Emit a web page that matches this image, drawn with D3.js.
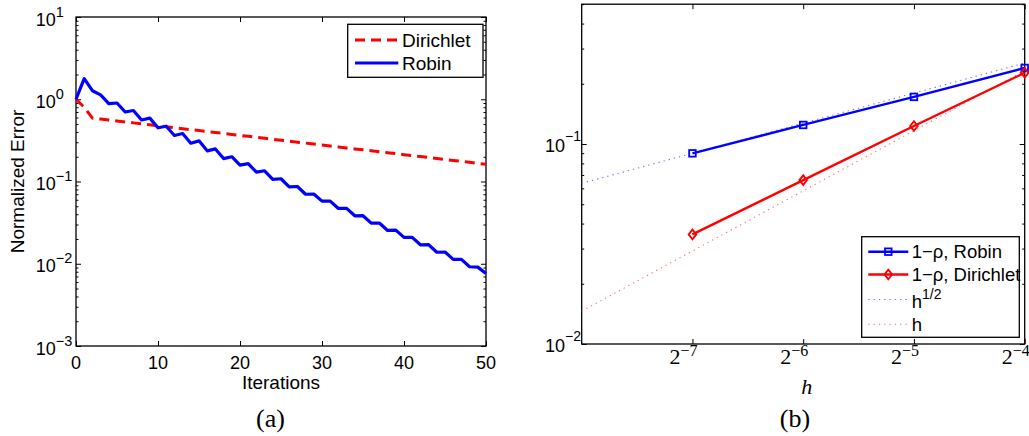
<!DOCTYPE html>
<html>
<head>
<meta charset="UTF-8">
<title>convergence</title>
<script src="https://d3js.org/d3.v7.min.js"></script>
<style>
  body { margin: 0; background: #fff; }
  text { font-family: "Liberation Sans", Arial, sans-serif; fill: #000; }
  .serif { font-family: "Liberation Serif", "Times New Roman", serif; }
</style>
</head>
<body>
<svg id="chart" width="1029" height="436"></svg>
<script>
  // (a) normalized error vs iterations, index = iteration number
  const dirichlet = [1.0, 0.80, 0.590, 0.574, 0.559, 0.544, 0.530, 0.516, 0.502, 0.489,
    0.476, 0.463, 0.451, 0.439, 0.427, 0.416, 0.405, 0.394, 0.384, 0.373,
    0.363, 0.354, 0.344, 0.335, 0.326, 0.318, 0.309, 0.301, 0.293, 0.285,
    0.278, 0.270, 0.263, 0.256, 0.249, 0.243, 0.236, 0.230, 0.224, 0.218,
    0.212, 0.206, 0.201, 0.196, 0.190, 0.185, 0.180, 0.176, 0.171, 0.166, 0.162];
  const robin = [1.0, 1.78, 1.27, 1.13, 0.885, 0.90, 0.70, 0.73, 0.56, 0.59,
    0.45, 0.47, 0.363, 0.383, 0.292, 0.312, 0.236, 0.249, 0.190, 0.200,
    0.158, 0.165, 0.130, 0.135, 0.106, 0.108, 0.0862, 0.087, 0.0700, 0.0705,
    0.0577, 0.0577, 0.0470, 0.0471, 0.0383, 0.0384, 0.0312, 0.0313, 0.0254, 0.0256,
    0.0209, 0.0209, 0.0170, 0.0171, 0.0138, 0.0139, 0.0113, 0.0113, 0.0092, 0.0091, 0.0076];
  const iterTicks = [0, 10, 20, 30, 40, 50];
  const errTicks = [1e-3, 1e-2, 1e-1, 1, 10];
  const errExps = ['\u22123', '\u22122', '\u22121', '0', '1'];

  // (b) 1 - rho vs h
  const hValues = [1/128, 1/64, 1/32, 1/16];
  const rhoRobin = [0.0898, 0.1245, 0.172, 0.240];
  const rhoDirichlet = [0.0353, 0.066, 0.123, 0.227];
  const refH = [1/256, 1/16];
  const refSqrt = [0.0636, 0.254];
  const refLin = [0.0146, 0.233];
  const hTicks = [1/128, 1/64, 1/32, 1/16];
  const hExps = ['\u22127', '\u22126', '\u22125', '\u22124'];
  const rhoTicks = [1e-2, 1e-1];
  const rhoExps = ['\u22122', '\u22121'];

  const svg = d3.select('#chart');

  const A = { x0: 76, x1: 486, y0: 17, y1: 346 };
  const B = { x0: 581.7, x1: 1024.7, y0: 4.2, y1: 344 };

  const xa = d3.scaleLinear().domain([0, 50]).range([A.x0, A.x1]);
  const ya = d3.scaleLog().domain([1e-3, 10]).range([A.y1, A.y0]);
  const xb = d3.scaleLog().base(2).domain([1/256, 1/16]).range([B.x0, B.x1]);
  const yb = d3.scaleLog().domain([0.01, 0.5]).range([B.y1, B.y0]);

  function ticks(box, x, y, xt, yt, ymin) {
    const g = svg.append('g');
    const strip = sel => { sel.select('.domain').remove(); sel.selectAll('text').remove(); sel.selectAll('line').attr('stroke', '#000'); };
    g.append('g').attr('transform', `translate(0,${box.y1})`)
      .call(d3.axisBottom(x).tickValues(xt).tickSizeInner(-5).tickSizeOuter(0)).call(strip);
    g.append('g').attr('transform', `translate(0,${box.y0})`)
      .call(d3.axisTop(x).tickValues(xt).tickSizeInner(-5).tickSizeOuter(0)).call(strip);
    g.append('g').attr('transform', `translate(${box.x0},0)`)
      .call(d3.axisLeft(y).tickValues(yt).tickSizeInner(-5).tickSizeOuter(0)).call(strip);
    g.append('g').attr('transform', `translate(${box.x1},0)`)
      .call(d3.axisRight(y).tickValues(yt).tickSizeInner(-5).tickSizeOuter(0)).call(strip);
    g.append('g').attr('transform', `translate(${box.x0},0)`)
      .call(d3.axisLeft(y).tickValues(ymin).tickSizeInner(-2.5).tickSizeOuter(0)).call(strip);
    g.append('g').attr('transform', `translate(${box.x1},0)`)
      .call(d3.axisRight(y).tickValues(ymin).tickSizeInner(-2.5).tickSizeOuter(0)).call(strip);
    g.selectAll('line').attr('stroke-width', 1);
    svg.append('rect').attr('x', box.x0).attr('y', box.y0)
      .attr('width', box.x1 - box.x0).attr('height', box.y1 - box.y0)
      .attr('fill', 'none').attr('stroke', '#000').attr('stroke-width', 1.3);
  }

  function powLabel(x, y, base, exp, size, supSize, dy, cls, anchor) {
    const t = svg.append('text').attr('x', x).attr('y', y)
      .attr('font-size', size).attr('text-anchor', anchor || 'start');
    if (cls) t.attr('class', cls);
    t.append('tspan').text(base);
    t.append('tspan').attr('dy', dy).attr('font-size', supSize).text(exp);
    return t;
  }

  // ---------- (a) ----------
  const minorA = ya.ticks().filter(v => !errTicks.some(m => Math.abs(m - v) / m < 1e-6));
  ticks(A, xa, ya, iterTicks, errTicks, minorA);

  const lineA = d3.line().x((d, i) => xa(i)).y(d => ya(d));
  svg.append('path').datum(dirichlet).attr('d', lineA)
    .attr('fill', 'none').attr('stroke', '#ff0000').attr('stroke-width', 3)
    .attr('stroke-dasharray', '10,6');
  svg.append('path').datum(robin).attr('d', lineA)
    .attr('fill', 'none').attr('stroke', '#0000ff').attr('stroke-width', 3.2)
    .attr('stroke-linejoin', 'round');

  errTicks.forEach((v, i) => powLabel(A.x0 - 40.3, ya(v) + 8.5, '10', errExps[i], 18, 14.5, -9));
  iterTicks.forEach(v => svg.append('text').attr('x', xa(v)).attr('y', A.y1 + 23.3)
    .attr('text-anchor', 'middle').attr('font-size', 18).text(v));
  svg.append('text').attr('x', (A.x0 + A.x1) / 2).attr('y', 389)
    .attr('text-anchor', 'middle').attr('font-size', 19).text('Iterations');
  svg.append('text').attr('transform', `translate(24,${(A.y0 + A.y1) / 2}) rotate(-90)`)
    .attr('text-anchor', 'middle').attr('font-size', 19).text('Normalized Error');

  // legend (a)
  const legA = svg.append('g');
  legA.append('rect').attr('x', 347.7).attr('y', 24.3).attr('width', 135.3).attr('height', 53)
    .attr('fill', '#fff').attr('stroke', '#000').attr('stroke-width', 1.3);
  [['Dirichlet', '#ff0000', '10,6', 40], ['Robin', '#0000ff', null, 63]].forEach(([name, c, dash, yy]) => {
    const l = legA.append('line').attr('x1', 355).attr('x2', 398.3).attr('y1', yy).attr('y2', yy)
      .attr('stroke', c).attr('stroke-width', 3);
    if (dash) l.attr('stroke-dasharray', dash);
    legA.append('text').attr('x', 402).attr('y', yy + 6.8).attr('font-size', 19).text(name);
  });

  svg.append('text').attr('class', 'serif').attr('x', 270.5).attr('y', 427)
    .attr('text-anchor', 'middle').attr('font-size', 26).text('(a)');

  // ---------- (b) ----------
  const minorB = yb.ticks().filter(v => !rhoTicks.some(m => Math.abs(m - v) / m < 1e-6));
  ticks(B, xb, yb, hTicks, rhoTicks, minorB);

  const lineB = d3.line().x(d => xb(d[0])).y(d => yb(d[1]));
  svg.append('path').datum(d3.zip(refH, refSqrt)).attr('d', lineB)
    .attr('fill', 'none').attr('stroke', '#6f6fff').attr('stroke-width', 1.1)
    .attr('stroke-dasharray', '1.3,4');
  svg.append('path').datum(d3.zip(refH, refLin)).attr('d', lineB)
    .attr('fill', 'none').attr('stroke', '#ff7070').attr('stroke-width', 1.1)
    .attr('stroke-dasharray', '1.3,4');
  svg.append('path').datum(d3.zip(hValues, rhoRobin)).attr('d', lineB)
    .attr('fill', 'none').attr('stroke', '#0000ff').attr('stroke-width', 2.4);
  svg.append('path').datum(d3.zip(hValues, rhoDirichlet)).attr('d', lineB)
    .attr('fill', 'none').attr('stroke', '#ff0000').attr('stroke-width', 2.4);

  const square = (g, x, y, c) => g.append('rect').attr('x', x - 3.3).attr('y', y - 3.3)
    .attr('width', 6.6).attr('height', 6.6).attr('fill', 'none').attr('stroke', c).attr('stroke-width', 1.8);
  const diamond = (g, x, y, c) => g.append('path')
    .attr('d', `M${x},${y - 4.8}L${x + 3.8},${y}L${x},${y + 4.8}L${x - 3.8},${y}Z`)
    .attr('fill', 'none').attr('stroke', c).attr('stroke-width', 1.9);

  const mk = svg.append('g');
  hValues.forEach((h, i) => square(mk, xb(h), yb(rhoRobin[i]), '#0000ff'));
  hValues.forEach((h, i) => diamond(mk, xb(h), yb(rhoDirichlet[i]), '#ff0000'));

  rhoTicks.forEach((v, i) => powLabel(B.x0 - 36.7, yb(v) + 7.7, '10', rhoExps[i], 18, 14, -11));
  hTicks.forEach((v, i) => powLabel(xb(v) - 9, B.y1 + 19.5, '2', hExps[i], 22, 16, -7.5, 'serif', 'middle'));
  svg.append('text').attr('class', 'serif').attr('x', 806.7).attr('y', 394.3)
    .attr('text-anchor', 'middle').attr('font-size', 22).attr('font-style', 'italic').text('h');
  svg.append('text').attr('class', 'serif').attr('x', 795).attr('y', 427)
    .attr('text-anchor', 'middle').attr('font-size', 26).text('(b)');

  // legend (b)
  const legB = svg.append('g');
  legB.append('rect').attr('x', 861.7).attr('y', 236.7).attr('width', 157.6).attr('height', 100.6)
    .attr('fill', '#fff').attr('stroke', '#000').attr('stroke-width', 1.3);
  const rows = [251.7, 274.5, 299.5, 324.3];
  legB.append('line').attr('x1', 868.3).attr('x2', 908.3).attr('y1', rows[0]).attr('y2', rows[0])
    .attr('stroke', '#0000ff').attr('stroke-width', 2.4);
  square(legB, 888.3, rows[0], '#0000ff');
  legB.append('line').attr('x1', 868.3).attr('x2', 908.3).attr('y1', rows[1]).attr('y2', rows[1])
    .attr('stroke', '#ff0000').attr('stroke-width', 2.4);
  diamond(legB, 888.3, rows[1], '#ff0000');
  legB.append('line').attr('x1', 868.3).attr('x2', 908.3).attr('y1', rows[2]).attr('y2', rows[2])
    .attr('stroke', '#6f6fff').attr('stroke-width', 1.1).attr('stroke-dasharray', '1.3,4');
  legB.append('line').attr('x1', 868.3).attr('x2', 908.3).attr('y1', rows[3]).attr('y2', rows[3])
    .attr('stroke', '#ff7070').attr('stroke-width', 1.1).attr('stroke-dasharray', '1.3,4');
  legB.append('text').attr('x', 911.7).attr('y', rows[0] + 6.5).attr('font-size', 18.5).text('1\u2212\u03c1, Robin');
  legB.append('text').attr('x', 911.7).attr('y', rows[1] + 6.5).attr('font-size', 18.5).text('1\u2212\u03c1, Dirichlet');
  powLabel(911.7, rows[2] + 8, 'h', '1/2', 18.5, 14, -9);
  legB.append('text').attr('x', 911.7).attr('y', rows[3] + 6.5).attr('font-size', 18.5).text('h');
</script>
</body>
</html>
